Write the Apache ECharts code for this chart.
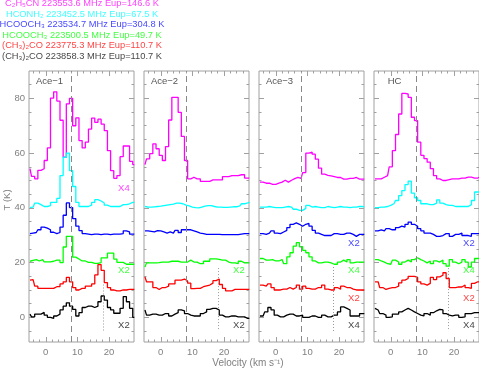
<!DOCTYPE html>
<html><head><meta charset="utf-8">
<script src="https://cdn.jsdelivr.net/npm/echarts@6/dist/echarts.min.js"></script>
<style>html,body{margin:0;padding:0;background:#fff}#c{width:479px;height:369px}</style>
</head><body><div id="c"></div>
<script>
// ---------------- data ----------------
const velocity = [-5,-4,-3,-2,-1,0,1,2,3,4,5,6,7,8,9,10,11,12,13,14,15,16,17,18,19,20,21,22,23,24,25,26,27,28];
const panelNames = ['Ace\u22121','Ace\u22122','Ace\u22123','HC'];
const transitions = [
  'C\u2082H\u2085CN 223553.6 MHz Eup=146.6 K',
  'HCONH\u2082 223452.5 MHz Eup=67.5 K',
  'HCOOCH\u2083 223534.7 MHz Eup=304.8 K',
  'HCOOCH\u2083 223500.5 MHz Eup=49.7 K',
  '(CH\u2083)\u2082CO 223775.3 MHz Eup=110.7 K',
  '(CH\u2083)\u2082CO 223858.3 MHz Eup=110.7 K'
];
const xTickLabels = [0,10,20];
const yTickLabels = [0,20,40,60,80];
const systemicVelocity = 8;
const markerVelocity = 18.2;

// Ace-1
const ace1_C2H5CN   = [54.3,51.5,50.6,53.7,54.3,57.3,61.9,80.1,82.4,79,72,58.5,78,80,70,72.9,64.6,61.9,64,68.8,72.8,71.2,72.4,70.6,68.2,60.9,53.6,50.8,51.8,58.7,62.6,62.6,57,55.8];
const ace1_HCONH2   = [40.2,40.3,41.7,41.2,40.5,40.5,40.8,42,42,43.5,51.8,58.5,60,53.6,47.8,42,40.5,40.5,40.5,41,42,43,42.5,41.8,41,40.5,40.5,40.5,40.5,41.2,41.2,41.5,42,42];
const ace1_HCOOCH3a = [30.6,30.8,31,32,33,32.6,32,31.1,30.6,31,33,37.3,41.8,40.1,36.1,33.3,31.7,30.6,30.4,30.2,30.4,30.4,30.2,30.4,30.4,30.2,30.4,30.4,30.4,30.6,31.6,31.2,30.4,30.4];
const ace1_HCOOCH3b = [20.5,20.8,21.1,20.6,21.1,20.3,20.3,20.5,20.9,20.9,20,25.7,29.6,29.6,22,21.3,20.6,20.6,20.1,20.1,19.7,19.7,20,21.7,21.7,23.5,23.5,21.3,20.1,20.1,19.4,19.4,19.4,19.4];
const ace1_CH32COa  = [13.6,13.8,11.4,10.6,10.6,10.6,10.6,10.6,11.2,11.2,12.2,13,14.6,13,10.9,10,10.6,10.6,11.4,11.4,12.2,15.5,19.3,17.2,12.7,10.9,10,9.7,9.7,10,10,10.2,10.2,10.2];
const ace1_CH32COb  = [1.2,0.2,1.2,1.2,1.8,0.8,0,-0.4,0.5,1.2,2.7,4.1,5.3,4.1,2.9,0.5,1.7,3.6,4.1,4.1,3.6,4.1,5.7,7.8,6.3,3.6,2.7,1.5,1.5,3.3,7.6,5.7,3.3,0];
// Ace-2
const ace2_C2H5CN   = [55.8,57.9,59.8,63.4,61.6,59.2,57.3,62.4,72.1,80.4,80.4,74.9,66.1,57.3,50.6,51.2,50.6,50.6,49.7,49.7,49.7,50.2,50.2,50.2,50.2,51.4,51.4,51.8,51.8,51.8,52.1,52.1,50.9,50.9];
const ace2_HCONH2   = [40.5,40.3,40.3,40.4,40.5,40.6,40.8,41,41.2,41.4,41.7,41.7,41.5,41,40.7,40.3,40.1,40,40.3,40.6,40.8,40.8,40.5,40.3,40.3,40.2,40.2,40.3,40.4,40.4,40.7,41.5,41.8,42];
const ace2_HCOOCH3a = [31.6,31.6,31.4,31.2,31.7,31.6,31.2,30.8,31.2,30.8,31.8,31,32,32,32,31.6,31.2,30.8,30.6,30.3,30.3,30.3,30.3,30.3,30.2,30.2,30.2,30.2,30.2,30.2,30.4,30.6,30.6,30.6];
const ace2_HCOOCH3b = [18.4,19.9,19.9,19.9,20,20.2,20.2,20.2,20.5,20.5,20.5,20.2,20.2,20.2,20.9,20.2,20.2,19.6,19.6,20.5,20.5,21.4,21.4,21.2,20.9,20.9,20.2,19.9,19.9,19.6,20.5,19.9,19.9,19.9];
const ace2_CH32COa  = [14.8,13,13,10.9,10.2,10.9,10.9,11.4,12.2,12.2,13.6,13.6,14,13.3,12.5,10.5,10.6,10.6,11.2,11.5,11.8,12.5,13.4,14,12,10.6,9.7,9.7,10.2,10.2,10.2,10.2,10.2,10.2];
const ace2_CH32COb  = [2.7,0.8,1.2,1.2,0.8,0.8,1.4,1.4,0.5,1.2,1.7,2.7,2.4,1.4,0.8,0.5,0.5,0.5,1.4,2,2.9,3.3,3.3,2.7,0.8,0.2,0.2,0.5,0.5,0.2,0.2,0.2,-0.4,-0.4];
// Ace-3
const ace3_C2H5CN   = [49.4,49.4,49,49,48.6,48.6,49,49.4,50.1,49.4,50.1,50.7,51.1,50.8,52.9,60,60.4,59.6,57.8,54.5,52.3,51.9,51.7,51.4,51.1,51.1,50.5,50.5,50.8,50.8,51.1,50.5,50.5,50.5];
const ace3_HCONH2   = [40.3,40.3,40.3,40.5,40.3,40.1,40.1,40.1,40.3,40.5,40.3,39.5,39.1,39.1,39.8,40.9,40.3,40.5,40.3,40.1,40.1,40.5,40.3,40.1,40.3,40.5,40.3,40.3,40.1,40.3,40.3,40.5,40.5,40.3];
const ace3_HCOOCH3a = [30.6,30.6,30.3,30.8,31.6,30.8,30.6,31.2,31.8,32.8,34,34.5,34,33.3,34,34.3,33.3,31.8,30.8,30.3,29.9,29.9,29.9,30.6,30.6,30.3,30.3,30.8,30.8,30.3,29.6,30.3,30.3,30.3];
const ace3_HCOOCH3b = [21.5,21.5,20.9,20.9,21.1,20.6,20.6,21.1,19.6,22.1,23.6,26,27.3,25.8,24.5,23.6,22.1,20.6,19.9,19.9,20.2,20.2,19.9,19.4,19.4,20.2,20.9,20.2,21.1,19.9,20.2,20.2,20.2,20.2];
const ace3_CH32COa  = [11.8,11.8,11.4,12.2,10.9,10,10,10.3,10.3,10.9,10.3,10.9,11.8,10.3,11.4,10.6,10.3,10.3,10.9,10.9,11.8,10.3,10,10,10.9,10.3,11.4,10.9,10.9,10.3,10,10,10,10];
const ace3_CH32COb  = [0.5,0.5,2,3.6,2.7,0.8,0.2,0.2,0.8,1.2,1.2,0.5,0.5,0.8,0,0,0.5,0.5,0,0,0.8,0.2,0.2,0.8,0.8,2,3.8,3.3,2.7,0.5,0.5,0.5,1.4,1.4];
// HC
const hc_C2H5CN     = [50.6,50.6,50.6,51.2,51.8,55,60.9,66.8,74.3,81.8,81.6,80.4,73.1,71.9,64,59.2,58,56.7,54.3,51.8,50.6,50,50,50.3,50.6,50.6,50.6,50.9,50.9,51.2,51.2,50.9,50.9,51.2];
const hc_HCONH2     = [40.1,40.1,40.3,40.3,40.5,40.9,41.5,42.7,44.5,46.3,48.5,49.8,45.4,43.7,42.7,41.5,41.5,41.2,41.2,41.7,42.9,41.7,41.2,40.9,40.9,40.5,40.5,40.5,40.5,40.5,41.2,42.7,45.8,45.8];
const hc_HCOOCH3a   = [31.6,31.6,32,31.6,32.4,32,32,32.8,33.3,33,34,34.8,34,33.3,32.4,31.6,30.8,30.8,30.3,29.6,29.6,29.9,30.6,30.6,29.6,30.3,30.3,30.8,29.9,29.9,29.6,30.6,30.6,30.6];
const hc_HCOOCH3b   = [21.1,21.1,20.6,20.2,19.6,19.4,20.9,20.2,19.4,20.2,20.9,20.2,21.1,21.8,21.1,20.6,19.9,20.6,19.6,20.6,20.2,20.9,19.6,18.7,21.1,20.2,19.6,20.2,21.1,20.2,18.4,20.2,21.5,21.5];
const hc_CH32COa    = [13,13,10.9,10.2,10.6,10.9,10.9,11.4,12.6,13.6,14.2,15,15,14.6,13,12.2,11.8,12.4,14.6,13.8,14.8,15.4,16.3,14.2,10.9,10.9,11.1,11.1,11.8,10.9,10.6,12.4,13,13];
const hc_CH32COb    = [3.3,2.7,1.4,0.8,0,0.2,1.2,1.2,2,2.7,3.3,2.7,2,1.4,0.8,0.5,1.4,0.8,1.7,2.4,2.9,2.7,1.4,0.8,0.5,0.8,0.8,0,0.2,1.4,1.4,1.7,1.7,1.7];

const spectra = [
  [ace1_C2H5CN, ace1_HCONH2, ace1_HCOOCH3a, ace1_HCOOCH3b, ace1_CH32COa, ace1_CH32COb],
  [ace2_C2H5CN, ace2_HCONH2, ace2_HCOOCH3a, ace2_HCOOCH3b, ace2_CH32COa, ace2_CH32COb],
  [ace3_C2H5CN, ace3_HCONH2, ace3_HCOOCH3a, ace3_HCOOCH3b, ace3_CH32COa, ace3_CH32COb],
  [hc_C2H5CN,   hc_HCONH2,   hc_HCOOCH3a,   hc_HCOOCH3b,   hc_CH32COa,   hc_CH32COb]
];
const scaleFactors = [
  ['X4', null, null, 'X2', null, 'X2'],
  [null, null, null, 'X2', null, 'X2'],
  [null, null, 'X2', 'X4', 'X2', 'X4'],
  [null, null, 'X2', 'X4', 'X2', 'X4']
];
const markerTop = [12, 18, 18.4, 18];
const markerBottom = -5;

// ---------------- layout / style ----------------
const colors = ['#ff00ff','#00ffff','#0000ff','#00ff00','#ff0000','#000000'];
const gridLefts = [29,144,259,374];
const GTOP = 71, GW = 105, GH = 271;
const XMIN = -5.3, XMAX = 27.9, YMIN = -9, YMAX = 90;
const FRAME = '#a0a0a0', TXT = '#808080';
const FONT = '"Liberation Sans", Arial, sans-serif';
const labelV = 24.7;
const labelT = [47, null, 27, 17, 7, -3];
const xMinor = [-4,-2,2,4,6,8,12,14,16,18,22,24,26];
const yMinor = [-5,5,10,15,25,30,35,45,50,55,65,70,75,85];

const grids = [], xAxes = [], yAxes = [], series = [];
gridLefts.forEach((l, g) => {
  grids.push({left:l, top:GTOP, width:GW, height:GH, show:true, borderColor:FRAME, borderWidth:1, backgroundColor:'transparent'});
  const xa = (pos, vals, len, lab) => ({gridIndex:g, type:'value', min:XMIN, max:XMAX, position:pos,
    axisLine:{show:false, onZero:false}, splitLine:{show:false},
    axisTick:{show:true, inside:true, length:len, customValues:vals, lineStyle:{color:FRAME, width:1}},
    axisLabel:{show:lab, customValues:xTickLabels, color:TXT, fontSize:9.5, fontFamily:FONT, margin:5}});
  xAxes.push(xa('bottom', xTickLabels, 5, true), xa('bottom', xMinor, 2.5, false),
             xa('top', xTickLabels, 5, false), xa('top', xMinor, 2.5, false));
  const ya = (pos, vals, len, lab) => ({gridIndex:g, type:'value', min:YMIN, max:YMAX, position:pos,
    axisLine:{show:false, onZero:false}, splitLine:{show:false},
    axisTick:{show:true, inside:true, length:len, customValues:vals, lineStyle:{color:FRAME, width:1}},
    axisLabel:{show:lab, customValues:yTickLabels, color:TXT, fontSize:9.5, fontFamily:FONT, margin:4}});
  yAxes.push(ya('left', yTickLabels, 5, g === 0), ya('left', yMinor, 2.5, false),
             ya('right', yTickLabels, 5, false), ya('right', yMinor, 2.5, false));
  spectra[g].forEach((arr, i) => {
    const s = {type:'line', xAxisIndex:4*g, yAxisIndex:4*g, step:'middle', symbol:'none', showSymbol:false,
      silent:true, clip:true, data: velocity.map((v, k) => [v, arr[k]]),
      lineStyle:{color:colors[i], width:1.3}, itemStyle:{color:colors[i]}};
    if (i === 0) {
      s.markLine = {silent:true, symbol:'none', label:{show:false}, animation:false,
        lineStyle:{color:'#888', width:1, type:[6,4]}, data:[{xAxis:systemicVelocity}]};
    }
    if (i === 5) {
      s.markLine = {silent:true, symbol:'none', label:{show:false}, animation:false,
        lineStyle:{color:'#999', width:1, type:[1,2]},
        data:[[{coord:[markerVelocity, markerTop[g]]}, {coord:[markerVelocity, markerBottom]}]]};
    }
    if (scaleFactors[g][i]) {
      s.markPoint = {silent:true, symbol:'circle', symbolSize:0, animation:false,
        label:{show:true, position:'inside', formatter:scaleFactors[g][i], color:colors[i], fontSize:9.5, fontFamily:FONT, opacity:0.75},
        data:[{coord:[labelV, labelT[i]]}]};
    }
    series.push(s);
  });
});

const graphics = [];
const legendY = [3.5, 14, 24.5, 35, 45.5, 56];
transitions.forEach((t, i) => graphics.push({type:'text', x:82, y:legendY[i], silent:true,
  style:{text:t, fill:colors[i], opacity:0.75, fontSize:9.3, fontFamily:FONT, align:'center', verticalAlign:'middle'}}));
panelNames.forEach((n, g) => graphics.push({type:'text', x:gridLefts[g]+20.5, y:81, silent:true,
  style:{text:n, fill:'#555', fontSize:9.5, fontFamily:FONT, align:'center', verticalAlign:'middle'}}));
graphics.push({type:'text', x:7, y:200, rotation:Math.PI/2, silent:true,
  style:{text:'T (K)', fill:TXT, fontSize:9.5, fontFamily:FONT, align:'center', verticalAlign:'middle'}});
graphics.push({type:'text', x:248, y:363, silent:true,
  style:{text:'Velocity (km s\u207B\u00B9)', fill:TXT, fontSize:10, fontFamily:FONT, align:'center', verticalAlign:'middle'}});

const chart = echarts.init(document.getElementById('c'), null, {renderer:'canvas'});
chart.setOption({animation:false, backgroundColor:'#fff', grid:grids, xAxis:xAxes, yAxis:yAxes, series:series, graphic:graphics});
</script></body></html>
